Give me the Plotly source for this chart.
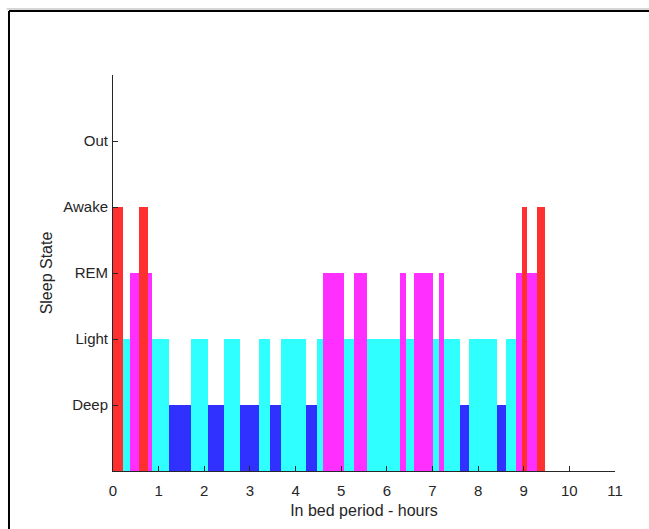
import plotly.graph_objects as go

# Segment boundaries (hours) and sleep state of each segment
bounds = [0, 0.226, 0.366, 0.58, 0.756, 0.846, 1.227, 1.709, 2.077, 2.443, 2.779,
          3.193, 3.440, 3.681, 4.229, 4.464, 4.608, 5.055, 5.274, 5.566, 6.289,
          6.420, 6.602, 7.005, 7.143, 7.253, 7.604, 7.801, 8.421, 8.612, 8.831,
          8.956, 9.072, 9.291, 9.466]
states = ["Awake", "Light", "REM", "Awake", "REM", "Light", "Deep", "Light", "Deep",
          "Light", "Deep", "Light", "Deep", "Light", "Deep", "Light", "REM", "Light",
          "REM", "Light", "REM", "Light", "REM", "Light", "REM", "Light", "Deep",
          "Light", "Deep", "Light", "REM", "Awake", "REM", "Awake"]

state_levels = {"Deep": 1, "Light": 2, "REM": 3, "Awake": 4, "Out": 5}
state_colors = {"Deep": "rgb(48,48,255)", "Light": "rgb(48,255,255)",
                "REM": "rgb(255,48,255)", "Awake": "rgb(255,48,48)"}
ytick_vals = [0, 1, 2, 3, 4, 5, 6]
ytick_text = ["", "Deep", "Light", "REM", "Awake", "Out", ""]
xtick_vals = list(range(0, 12))

fig = go.Figure()
for st in ["Light", "Deep", "REM", "Awake"]:
    xs, ws, ys = [], [], []
    for i, s in enumerate(states):
        if s == st:
            a, b = bounds[i], bounds[i + 1]
            xs.append((a + b) / 2)
            ws.append(b - a)
            ys.append(state_levels[s])
    fig.add_trace(go.Bar(x=xs, y=ys, width=ws, marker=dict(color=state_colors[st], line=dict(width=0)),
                         showlegend=False, hoverinfo="skip"))

fontfam = "Liberation Sans, Arial, sans-serif"
fig.update_layout(
    width=649, height=529,
    margin=dict(l=113, r=34, t=75, b=58),
    paper_bgcolor="white", plot_bgcolor="white",
    barmode="overlay", bargap=0,
    font=dict(family=fontfam, size=15, color="#262626"),
    xaxis=dict(range=[0, 11], tickvals=xtick_vals, ticks="inside", ticklen=5,
               tickcolor="#262626", showline=True, linecolor="#262626", linewidth=1,
               showgrid=False, zeroline=False, tickfont=dict(size=15),
               ticklabelstandoff=6,
               title=dict(text="In bed period - hours", font=dict(size=16), standoff=6)),
    yaxis=dict(range=[0, 6], tickvals=ytick_vals, ticktext=ytick_text, ticks="inside",
               ticklen=5, tickcolor="#262626", showline=True, linecolor="#262626",
               linewidth=1, showgrid=False, zeroline=False, tickfont=dict(size=15),
               ticklabelstandoff=1,
               title=dict(text="Sleep State", font=dict(size=16), standoff=6)),
    shapes=[
        dict(type="line", xref="paper", yref="paper", x0=-0.212, x1=2,
             y0=1.1667, y1=1.1667, line=dict(color="#b0b0b0", width=1)),
        dict(type="line", xref="paper", yref="paper", x0=-0.2072, x1=2,
             y0=1.1616, y1=1.1616, line=dict(color="black", width=2)),
        dict(type="line", xref="paper", yref="paper", x0=-0.2072, x1=-0.2072,
             y0=1.1616, y1=-1, line=dict(color="black", width=2)),
    ],
)

fig.write_html("out.html")
